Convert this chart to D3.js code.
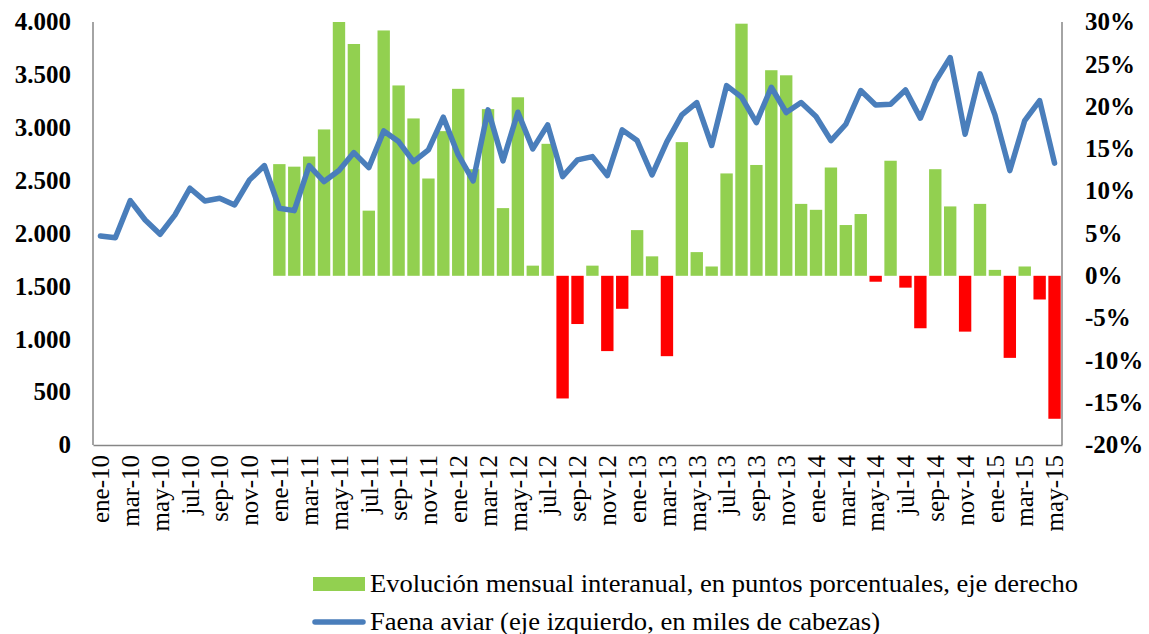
<!DOCTYPE html>
<html>
<head>
<meta charset="utf-8">
<script src="https://cdn.jsdelivr.net/npm/d3@7"></script>
<style>
  body { margin: 0; background: #fff; }
  text { font-family: "Liberation Serif", "Times New Roman", serif; fill: #000; }
</style>
</head>
<body>
<svg id="chart" width="1149" height="634"></svg>
<script>
var months = ["ene","feb","mar","abr","may","jun","jul","ago","sep","oct","nov","dic"];
var years = ["10","11","12","13","14","15"];

var categories = [];
years.forEach(function(y) {
  months.forEach(function(m) { categories.push(m + "-" + y); });
});
categories = categories.slice(0, 65); // ene-10 .. may-15

// faena aviar, miles de cabezas (eje izquierdo)
var faena = [1977, 1960, 2311, 2128, 1993, 2176, 2428, 2308, 2334, 2270, 2507, 2642,
             2239, 2216, 2642, 2491, 2595, 2765, 2623, 2970, 2869, 2680, 2791, 3100,
             2743, 2497, 3169, 2687, 3147, 2800, 3027, 2538, 2696, 2727, 2548, 2980,
             2879, 2554, 2869, 3122, 3238, 2832, 3399, 3289, 3049, 3383, 3144, 3238,
             3106, 2879, 3033, 3352, 3216, 3223, 3358, 3091, 3437, 3664, 2939, 3510,
             3122, 2595, 3068, 3257, 2665];

// evolucion interanual, % (eje derecho), desde ene-11
var evolucion = [13.2, 12.9, 14.1, 17.3, 30.0, 27.4, 7.7, 29.0, 22.5, 18.6, 11.5, 17.1,
                 22.1, 12.6, 19.7, 8.0, 21.1, 1.2, 15.6, -14.5, -5.7, 1.2, -8.9, -3.9,
                 5.4, 2.3, -9.5, 15.8, 2.8, 1.1, 12.1, 29.8, 13.1, 24.3, 23.7, 8.5,
                 7.8, 12.8, 6.0, 7.3, -0.7, 13.6, -1.4, -6.2, 12.6, 8.2, -6.6, 8.5,
                 0.7, -9.7, 1.1, -2.8, -16.9];

var leftTicks = [0, 500, 1000, 1500, 2000, 2500, 3000, 3500, 4000];
var rightTicks = [-20, -15, -10, -5, 0, 5, 10, 15, 20, 25, 30];

var legendLabels = ["Evolución mensual interanual, en puntos porcentuales, eje derecho",
                    "Faena aviar (eje izquierdo, en miles de cabezas)"];

var svg = d3.select("#chart"),
    margin = {top: 22, right: 87, bottom: 189, left: 93},
    width = +svg.attr("width") - margin.left - margin.right,
    height = +svg.attr("height") - margin.top - margin.bottom;

var g = svg.append("g")
    .attr("transform", "translate(" + margin.left + "," + margin.top + ")");

var x = d3.scaleBand().domain(categories).range([0, width]).paddingInner(0.17).paddingOuter(0.085);
var xc = d3.scalePoint().domain(categories).range([0, width]).padding(0.5);
var yLeft = d3.scaleLinear().domain([0, 4000]).range([height, 0]);
var yRight = d3.scaleLinear().domain([-20, 30]).range([height, 0]);

var barData = evolucion.map(function(v, i) { return {cat: categories[i + 12], value: v}; });

// bars
g.append("g")
    .selectAll("rect")
    .data(barData)
  .enter().append("rect")
    .attr("x", function(d) { return x(d.cat); })
    .attr("width", x.bandwidth())
    .attr("y", function(d) { return yRight(Math.max(0, d.value)); })
    .attr("height", function(d) { return Math.abs(yRight(d.value) - yRight(0)); })
    .attr("fill", function(d) { return d.value < 0 ? "#FF0000" : "#92D050"; });

// line
var line = d3.line()
    .x(function(d, i) { return xc(categories[i]); })
    .y(function(d) { return yLeft(d); });

g.append("path")
    .datum(faena)
    .attr("fill", "none")
    .attr("stroke", "#4A7EBB")
    .attr("stroke-width", 5.5)
    .attr("stroke-linejoin", "round")
    .attr("stroke-linecap", "round")
    .attr("d", line);

// axes frame
var axisColor = "#868686";
g.append("line").attr("x1", 0).attr("x2", 0).attr("y1", 0).attr("y2", height)
    .attr("stroke", axisColor).attr("stroke-width", 1.5);
g.append("line").attr("x1", width).attr("x2", width).attr("y1", 0).attr("y2", height)
    .attr("stroke", axisColor).attr("stroke-width", 1.5);

var xAxis = g.append("g")
    .attr("transform", "translate(0," + height + ")")
    .call(d3.axisBottom(xc)
      .tickValues(categories.filter(function(d, i) { return i % 2 === 0; }))
      .tickSize(0));
xAxis.select(".domain").attr("stroke", axisColor).attr("stroke-width", 1.5);
xAxis.selectAll("text")
    .attr("transform", "rotate(-90)")
    .attr("x", -10)
    .attr("y", 0)
    .attr("dy", "0.33em")
    .attr("text-anchor", "end")
    .style("font-family", "'Liberation Serif', 'Times New Roman', serif")
    .style("font-size", "25px")
    .attr("fill", "#000");

// left ticks
g.append("g")
    .selectAll("text")
    .data(leftTicks)
  .enter().append("text")
    .attr("x", -22)
    .attr("y", function(d) { return yLeft(d); })
    .attr("dy", "0.33em")
    .attr("text-anchor", "end")
    .attr("font-size", "25px")
    .attr("font-weight", "bold")
    .text(function(d) { return d3.format(",")(d).replace(/,/g, "."); });

// right ticks
g.append("g")
    .selectAll("text")
    .data(rightTicks)
  .enter().append("text")
    .attr("x", width + 23)
    .attr("y", function(d) { return yRight(d); })
    .attr("dy", "0.33em")
    .attr("text-anchor", "start")
    .attr("font-size", "25px")
    .attr("font-weight", "bold")
    .text(function(d) { return d + "%"; });

// legend (text is stretched horizontally in the original)
var legend = svg.append("g").attr("transform", "translate(313,0)");
legend.append("rect")
    .attr("x", 0).attr("y", 577).attr("width", 52).attr("height", 14)
    .attr("fill", "#92D050");
legend.append("text")
    .attr("x", 57).attr("y", 592)
    .attr("font-size", "25px")
    .attr("textLength", 708)
    .attr("lengthAdjust", "spacingAndGlyphs")
    .text(legendLabels[0]);
legend.append("line")
    .attr("x1", 2).attr("x2", 50).attr("y1", 622).attr("y2", 622)
    .attr("stroke", "#4A7EBB").attr("stroke-width", 5.5).attr("stroke-linecap", "round");
legend.append("text")
    .attr("x", 57).attr("y", 630)
    .attr("font-size", "25px")
    .attr("textLength", 510)
    .attr("lengthAdjust", "spacingAndGlyphs")
    .text(legendLabels[1]);
</script>
</body>
</html>
